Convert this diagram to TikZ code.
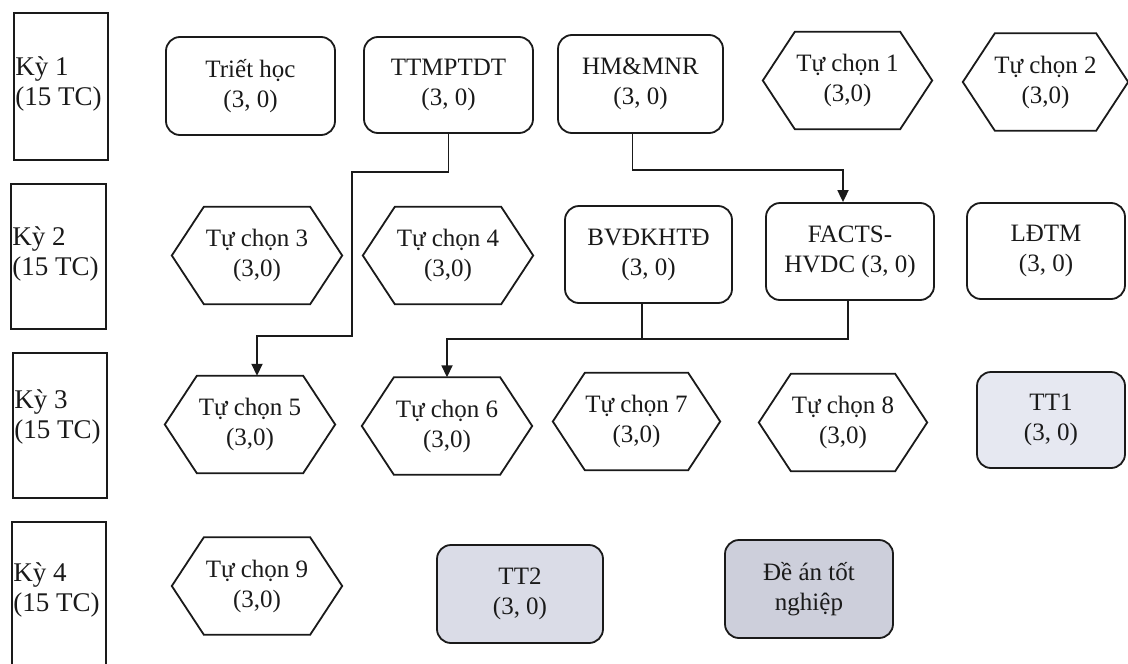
\documentclass[tikz,border=0pt]{standalone}
\usepackage{fontspec}
\setmainfont{Liberation Serif}
\usetikzlibrary{arrows.meta}

\definecolor{ink}{HTML}{1A1A1A}
\definecolor{fillA}{HTML}{E6E8F1}
\definecolor{fillB}{HTML}{DADCE7}
\definecolor{fillC}{HTML}{CDCFDB}

\tikzset{
  every node/.style={font=\fontsize{25}{30}\selectfont, text=ink},
  termbox/.style={draw=ink, line width=1.8pt, rectangle},
  termtext/.style={anchor=west, align=left, inner sep=0pt,
                   font=\fontsize{27}{30}\selectfont},
  course/.style={draw=ink, line width=1.8pt, rounded corners=14pt,
                 align=center, inner sep=0pt},
  hexbox/.style={align=center, inner sep=0pt, minimum width=169pt, minimum height=97pt},
  hexline/.style={draw=ink, line width=1.8pt, line join=miter},
  line/.style={draw=ink, line width=1.8pt},
  link/.style={line, -{Triangle[length=12pt,width=11pt]}},
}

\begin{document}
\begin{tikzpicture}[x=1pt, y=-1pt]
\useasboundingbox (0,0) rectangle (1128,664);
\fill[white] (0,0) rectangle (1128,664);

% semester column
\node[termbox, minimum width=94pt, minimum height=147pt] (k1) at (61,86.5) {};
\node[termbox, minimum width=95pt, minimum height=145pt] (k2) at (58.5,256.5) {};
\node[termbox, minimum width=94pt, minimum height=145pt] (k3) at (60,425.5) {};
\node[termbox, minimum width=94pt, minimum height=160pt] (k4) at (59,602) {};
\node[termtext] (k1t) at ([xshift=2pt]k1.west |- 0,84) {Kỳ 1\\(15 TC)};
\node[termtext] (k2t) at ([xshift=2pt]k2.west |- 0,254) {Kỳ 2\\(15 TC)};
\node[termtext] (k3t) at ([xshift=2pt]k3.west |- 0,417) {Kỳ 3\\(15 TC)};
\node[termtext] (k4t) at ([xshift=2pt]k4.west |- 0,590) {Kỳ 4\\(15 TC)};

% semester 1
\node[course, minimum width=169pt, minimum height=98pt] (tr) at (250.5,86) {Triết học\\(3, 0)};
\node[course, minimum width=169pt, minimum height=96pt] (tt) at (448.5,85) {TTMPTDT\\(3, 0)};
\node[course, minimum width=165pt, minimum height=98pt] (hm) at (640.5,84) {HM\&MNR\\(3, 0)};
\node[hexbox] (tc1) at (847.5,80.5) {Tự chọn 1\\(3,0)};
\node[hexbox, minimum width=165pt] (tc2) at (1045.5,82) {Tự chọn 2\\(3,0)};

% semester 2
\node[hexbox, minimum width=170pt] (tc3) at (257,255.5) {Tự chọn 3\\(3,0)};
\node[hexbox, minimum width=170pt] (tc4) at (448,255.5) {Tự chọn 4\\(3,0)};
\node[course, minimum width=167pt, minimum height=97pt] (bv) at (648.5,254.5) {BVĐKHTĐ\\(3, 0)};
\node[course, minimum width=168pt, minimum height=97pt] (fa) at (850,251.5) {FACTS-\\HVDC (3, 0)};
\node[course, minimum width=158pt, minimum height=96pt] (ld) at (1046,251) {LĐTM\\(3, 0)};

% semester 3
\node[hexbox, minimum width=170pt] (tc5) at (250,424.5) {Tự chọn 5\\(3,0)};
\node[hexbox, minimum width=170pt] (tc6) at (447,426) {Tự chọn 6\\(3,0)};
\node[hexbox, minimum width=167pt] (tc7) at (636.5,421.5) {Tự chọn 7\\(3,0)};
\node[hexbox, minimum width=168pt] (tc8) at (843,422.5) {Tự chọn 8\\(3,0)};
\node[course, fill=fillA, minimum width=148pt, minimum height=96pt] (t1) at (1051,420) {TT1\\(3, 0)};

% semester 4
\node[hexbox, minimum width=170pt] (tc9) at (257,586) {Tự chọn 9\\(3,0)};
\node[course, fill=fillB, minimum width=166pt, minimum height=98pt] (t2) at (520,594) {TT2\\(3, 0)};
\node[course, fill=fillC, minimum width=168pt, minimum height=98pt] (da) at (809,589) {Đề án tốt\\nghiệp};

% hexagonal outlines of the elective slots
\foreach \n in {tc1,tc2,tc3,tc4,tc5,tc6,tc7,tc8,tc9}{
  \draw[hexline] ([xshift=32pt]\n.north west) -- ([xshift=-32pt]\n.north east)
    -- (\n.east) -- ([xshift=-32pt]\n.south east) -- ([xshift=32pt]\n.south west)
    -- (\n.west) -- cycle;
}

% prerequisite links
\coordinate (b1) at (352,172);
\coordinate (b2) at (257,336);
\coordinate (b3) at (843,170);
\coordinate (b4) at (447,339);
\coordinate (b5) at (642,339);

\draw[link] (tt.south) |- (b1) |- (b2) -- (b2 |- tc5.north);
\draw[link] ([xshift=-8pt]hm.south) |- (b3) -- (b3 |- fa.north);
\draw[link] ([xshift=-2pt]fa.south) |- (b4) -- (b4 |- tc6.north);
\draw[line] (b5 |- bv.south) -- (b5);
\end{tikzpicture}
\end{document}
